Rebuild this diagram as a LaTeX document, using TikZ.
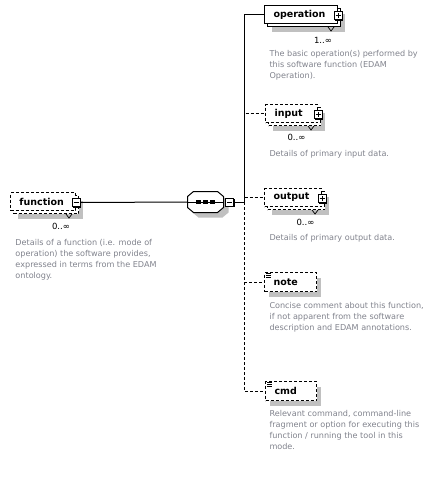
\documentclass[tikz,border=0pt]{standalone}
\usepackage{fontspec}
\setmainfont{DejaVu Sans}
\usetikzlibrary{positioning,calc,shadows}
\definecolor{shadowgray}{RGB}{192,192,192}
\definecolor{descgray}{RGB}{128,130,140}
\tikzset{
  elem/.style={draw,fill=white,anchor=north west,align=left,inner xsep=9pt,inner ysep=0pt,
    font=\bfseries\fontsize{9.5}{11}\selectfont},
  single/.style={elem,minimum height=19pt,
    drop shadow={shadow xshift=4pt,shadow yshift=-5pt,fill=shadowgray,opacity=1}},
  multi/.style={elem,minimum height=18pt,
    drop shadow={shadow xshift=7pt,shadow yshift=-8pt,fill=shadowgray,opacity=1},
    copy shadow={shadow xshift=3pt,shadow yshift=-3pt,#1}},
  multi/.default=solid,
  optline/.style={dash pattern=on 3pt off 2pt},
  btn/.style={draw,solid,fill=white,minimum size=8pt,inner sep=0pt,
    drop shadow={shadow xshift=1pt,shadow yshift=-1pt,fill=black,opacity=1}},
  btnminus/.style={btn,path picture={
    \draw ([xshift=1.5pt]path picture bounding box.west) -- ([xshift=-1.5pt]path picture bounding box.east);}},
  btnplus/.style={btn,path picture={
    \draw ([xshift=1.5pt]path picture bounding box.west) -- ([xshift=-1.5pt]path picture bounding box.east)
      ([yshift=-1.5pt]path picture bounding box.north) -- ([yshift=1.5pt]path picture bounding box.south);}},
  seqbox/.style={minimum width=35pt,minimum height=20pt,inner sep=0pt},
  mult/.style={inner sep=0pt,font=\fontsize{8.5}{9}\selectfont},
  desc/.style={anchor=north west,inner sep=0pt,align=left,text=descgray,
    font=\fontsize{8.1}{11}\selectfont},
}
\newcommand*{\notch}[1]{\draw[line width=.7pt] ([shift={(-10,3)}]#1.south east) -- ++(3,4) -- ++(3,-4);}

\begin{document}
\begin{tikzpicture}[x=1pt,y=-1pt,line width=1pt]
\useasboundingbox (0,0) rectangle (435,482);
% the element and its sequence
\node[multi=optline,optline,text width=47pt] (function) at (10,192) {function};
\notch{function}
\node[btnminus] (fnbtn) at ([yshift=-1pt]function.east) {};
\node[mult] at ([shift={(-15,15)}]function.south east) {0..∞};
\node[desc] (functiondesc) at (15,238.5) {Details of a function (i.e. mode of\\operation) the software provides,\\expressed in terms from the EDAM\\ontology.};
\node[seqbox] (seq) at (205.5,202) {};
\filldraw[fill=white,drop shadow={shadow xshift=5pt,shadow yshift=-5pt,fill=shadowgray,opacity=1}]
  ([xshift=6pt]seq.north west) -- ([xshift=-6pt]seq.north east) -- ([yshift=-5pt]seq.north east)
  -- ([yshift=5pt]seq.south east) -- ([xshift=-6pt]seq.south east) -- ([xshift=6pt]seq.south west)
  -- ([yshift=5pt]seq.south west) -- ([yshift=-5pt]seq.north west) -- cycle;
\draw (seq.west) -- (seq.east);
\foreach \dx in {-7,0,7}
  \fill ([xshift=\dx pt]seq.center) +(-2.5,-2) rectangle +(2.5,2);
\node[btnminus] (seqbtn) at ([xshift=6pt]seq.east) {};
\draw (fnbtn.east) -- (seq.west);
\draw (seqbtn.east) -- ++(10,0) coordinate (fork);

% children
\node[multi,text width=55pt] (operation) at (264,5) {operation};
\notch{operation}
\node[btnplus] (opbtn) at ([yshift=-1pt]operation.east) {};
\node[mult] at ([shift={(-15,16)}]operation.south east) {1..∞};
\node[desc] (operationdesc) at (269,49.5) {The basic operation(s) performed by\\this software function (EDAM\\Operation).};

\node[multi=optline,optline,text width=34pt] (input) at (265,104) {input};
\notch{input}
\node[btnplus] (inbtn) at ([yshift=-1pt]input.east) {};
\node[mult] at ([shift={(-21.5,14)}]input.south east) {0..∞};
\node[desc] (inputdesc) at (269,149.5) {Details of primary input data.};

\node[multi=optline,optline,text width=39pt] (output) at (264,188) {output};
\notch{output}
\node[btnplus] (outbtn) at ([yshift=-1pt]output.east) {};
\node[mult] at ([shift={(-16.5,15)}]output.south east) {0..∞};
\node[desc] (outputdesc) at (269,233.5) {Details of primary output data.};

\node[single,optline,text width=34pt] (note) at (264,272) {note};
\node[desc] (notedesc) at (269,301.5) {Concise comment about this function,\\if not apparent from the software\\description and EDAM annotations.};

\node[single,optline,text width=33pt] (cmd) at (265,381) {cmd};
\node[desc] (cmddesc) at (269,409.5) {Relevant command, command-line\\fragment or option for executing this\\function / running the tool in this\\mode.};

\foreach \n in {note,cmd}
  \foreach \i in {0,2,4}
    \draw[line width=.7pt] ([shift={(2,1.5+\i)}]\n.north west) -- ++(5,0);

\draw[optline] (fork) |- (input.west);
\draw[optline] (fork) |- (output.west);
\draw[optline] (fork) |- (note.west);
\draw[optline] (fork) |- (cmd.west);
\draw (fork) |- (operation.west);
\end{tikzpicture}
\end{document}
